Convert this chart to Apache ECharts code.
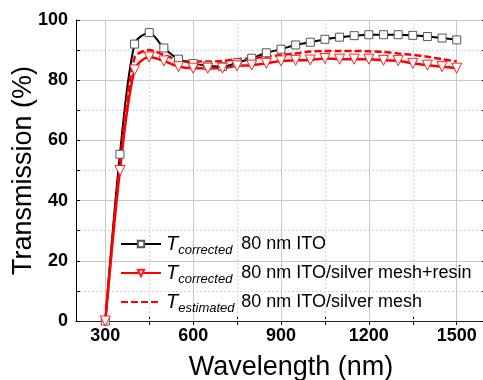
<!DOCTYPE html>
<html>
<head>
<meta charset="utf-8">
<script src="https://cdn.jsdelivr.net/npm/echarts@6/dist/echarts.min.js"></script>
<style>
  html, body { margin: 0; padding: 0; background: #fff; }
  #chart { width: 483px; height: 380px; }
</style>
</head>
<body>
<div id="chart"></div>
<script>
// wavelength (nm), one sample every 50 nm
const wavelengths = [300, 350, 400, 450, 500, 550, 600, 650, 700, 750, 800, 850, 900,
  950, 1000, 1050, 1100, 1150, 1200, 1250, 1300, 1350, 1400, 1450, 1500]

// T_corrected, 80 nm ITO
const tItoCorrected = [0, 55.4, 92, 95.8, 90.7, 87, 85.5, 84.8, 84.5, 85.8, 87.3, 89.1, 90.3,
  91.7, 92.6, 93.6, 94.3, 94.8, 95.1, 95.1, 95.1, 94.9, 94.5, 94, 93.4]

// T_corrected, 80 nm ITO/silver mesh+resin
const tMeshResinCorrected = [0, 50, 83.4, 87.7, 86.4, 84.5, 84, 84, 84, 84.8, 85, 85.6, 86.4,
  86.6, 86.7, 87.2, 87, 87, 87, 86.6, 86.5, 85.6, 85, 84.5, 84]

// T_estimated, 80 nm ITO/silver mesh
const tMeshEstimated = [0, 52, 87.5, 90, 88.4, 86.7, 86.2, 86.2, 86.4, 87, 87.3, 87.8, 88.4,
  88.9, 89.5, 89.7, 89.7, 89.7, 89.6, 89.4, 88.9, 88.4, 87.8, 87, 86.2]

const xLabelValues = [300, 600, 900, 1200, 1500]
const xTickValues = [300, 450, 600, 750, 900, 1050, 1200, 1350, 1500]
const xMinorGrid = [450, 750, 1050, 1350]

const seriesNames = ['80 nm ITO', '80 nm ITO/silver mesh+resin', '80 nm ITO/silver mesh']
const legendSubs = ['corrected', 'corrected', 'estimated']

const FONT = '"Liberation Sans", Arial, sans-serif'

const pairs = ys => wavelengths.map((x, i) => [x, ys[i]])

const chart = echarts.init(document.getElementById('chart'), null, { renderer: 'canvas' })

const axisText = { color: '#000', fontSize: 18, fontWeight: 'bold', fontFamily: FONT }

chart.setOption({
  animation: false,
  backgroundColor: '#fff',
  grid: { left: 76, top: 20, width: 410, height: 301, containLabel: false, outerBoundsMode: 'none' },
  legend: {
    data: [
      { name: seriesNames[0] },
      { name: seriesNames[1] },
      // dashed line only, no marker
      { name: seriesNames[2], itemStyle: { color: 'transparent', borderColor: 'transparent', borderWidth: 0 } }
    ],
    orient: 'vertical',
    left: 120,
    top: 234,
    padding: 0,
    itemWidth: 40,
    itemHeight: 8,
    itemGap: 6,
    formatter: name => {
      const i = seriesNames.indexOf(name)
      return '{t|T}{s|' + legendSubs[i] + '}{n|' + name + '}'
    },
    textStyle: {
      fontFamily: FONT,
      color: '#000',
      rich: {
        t: { fontSize: 20, fontStyle: 'italic', fontFamily: FONT, lineHeight: 26, verticalAlign: 'middle' },
        s: { fontSize: 13, fontStyle: 'italic', fontFamily: FONT, lineHeight: 13, verticalAlign: 'bottom', width: 63 },
        n: { fontSize: 18, fontFamily: FONT, lineHeight: 26, verticalAlign: 'middle' }
      }
    }
  },
  xAxis: [
    {
      type: 'value',
      min: 200,
      max: 1600,
      name: 'Wavelength (nm)',
      nameLocation: 'middle',
      nameGap: 33,
      nameMoveOverlap: false,
      nameTextStyle: { fontSize: 27, fontFamily: FONT, color: '#000', padding: [0, 0, 0, 20] },
      axisLine: { lineStyle: { color: '#000', width: 1 } },
      axisTick: { inside: true, length: 4, customValues: xTickValues, lineStyle: { color: '#000' } },
      axisLabel: { ...axisText, margin: 6, customValues: xLabelValues, formatter: v => String(v) },
      splitLine: { show: false }
    },
    {
      type: 'value',
      position: 'top',
      min: 200,
      max: 1600,
      axisLine: { lineStyle: { color: '#222', width: 1 } },
      axisTick: { inside: true, length: 4, customValues: xTickValues, lineStyle: { color: '#000' } },
      axisLabel: { show: false },
      splitLine: { show: false }
    }
  ],
  yAxis: [
    {
      type: 'value',
      min: 0,
      max: 100,
      interval: 20,
      name: 'Transmission (%)',
      nameLocation: 'middle',
      nameGap: 39,
      nameMoveOverlap: false,
      nameTextStyle: { fontSize: 27, fontFamily: FONT, color: '#000' },
      axisLine: { show: true, lineStyle: { color: '#000', width: 1 } },
      axisTick: { inside: true, length: 4, lineStyle: { color: '#000' } },
      minorTick: { show: true, splitNumber: 2, length: 4, lineStyle: { color: '#000' } },
      axisLabel: { ...axisText, margin: 8 },
      splitLine: { show: true, lineStyle: { color: '#c8c8c8', width: 1 } },
      minorSplitLine: { show: true, lineStyle: { color: '#d4d4d4', width: 1, type: [2, 2] } }
    },
    {
      type: 'value',
      position: 'right',
      min: 0,
      max: 100,
      interval: 20,
      axisLine: { show: true, lineStyle: { color: '#000', width: 1 } },
      axisTick: { inside: true, length: 4, lineStyle: { color: '#000' } },
      minorTick: { show: true, splitNumber: 2, length: 4, lineStyle: { color: '#000' } },
      axisLabel: { show: false },
      splitLine: { show: false }
    }
  ],
  series: [
    {
      // vertical grid lines only, drawn below the curves
      type: 'line',
      data: [],
      silent: true,
      markLine: {
        z: 1,
        silent: true,
        symbol: 'none',
        label: { show: false },
        lineStyle: { color: '#c8c8c8', width: 1, type: 'solid' },
        data: xLabelValues.map(v => ({ xAxis: v }))
          .concat(xMinorGrid.map(v => ({ xAxis: v, lineStyle: { color: '#d4d4d4', type: [2, 2] } })))
      }
    },
    {
      name: seriesNames[0],
      type: 'line',
      data: pairs(tItoCorrected),
      smooth: 0.3,
      symbol: 'rect',
      symbolSize: 8,
      lineStyle: { color: '#000', width: 2 },
      itemStyle: { color: '#fff', borderColor: '#555', borderWidth: 1 }
    },
    {
      name: seriesNames[1],
      type: 'line',
      data: pairs(tMeshResinCorrected),
      smooth: 0.3,
      symbol: 'triangle',
      symbolRotate: 180,
      symbolSize: 10,
      lineStyle: { color: '#ff0000', width: 2.5 },
      itemStyle: { color: '#fff', borderColor: '#ff2020', borderWidth: 1 }
    },
    {
      name: seriesNames[2],
      type: 'line',
      data: pairs(tMeshEstimated),
      smooth: 0.3,
      showSymbol: false,
      symbol: 'none',
      lineStyle: { color: '#ff0000', width: 2.5, type: [7, 3] },
      itemStyle: { color: '#ff0000' }
    }
  ]
})
</script>
</body>
</html>
